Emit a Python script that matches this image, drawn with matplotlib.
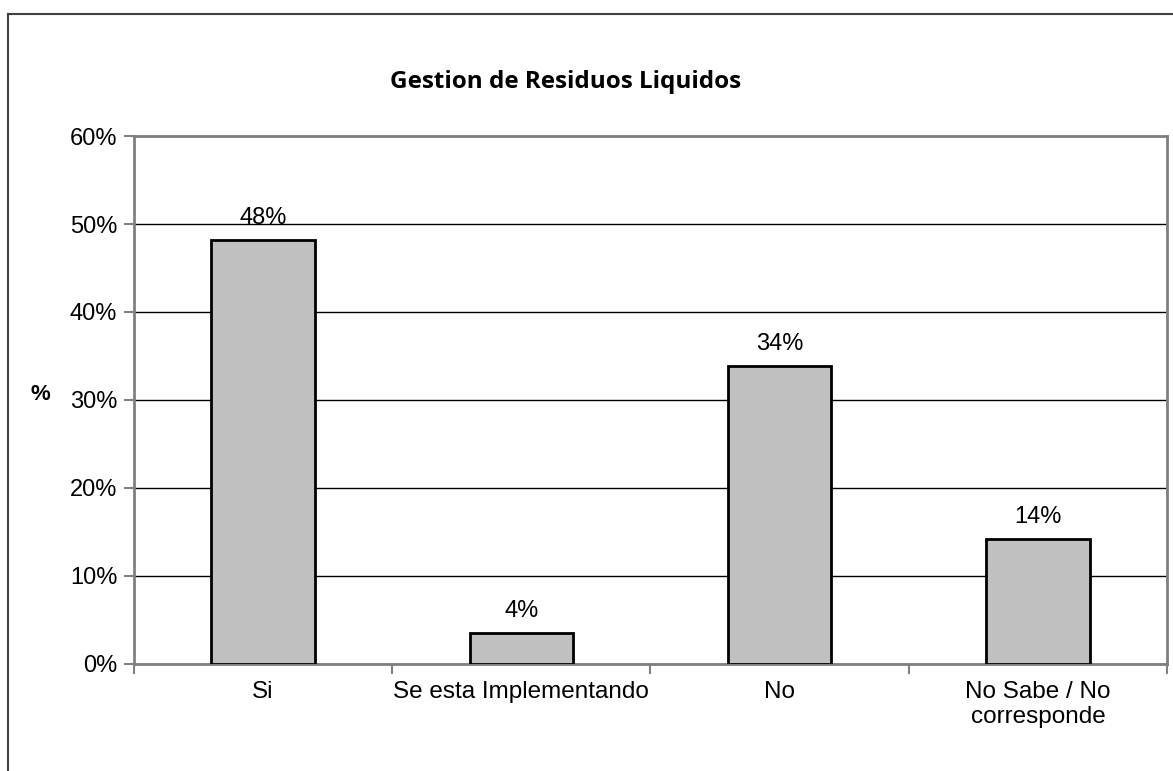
import numpy as np
import matplotlib.pyplot as plt
from matplotlib.ticker import FixedLocator, FuncFormatter
from matplotlib.lines import Line2D

# datos
categorias = ['Si', 'Se esta Implementando', 'No', 'No Sabe / No\ncorresponde']
valores = [48.2, 3.5, 33.9, 14.2]
etiquetas = ['48%', '4%', '34%', '14%']
ticks_y = [0, 10, 20, 30, 40, 50, 60]

plt.rcParams['font.family'] = ['Liberation Sans', 'DejaVu Sans']

fig = plt.figure(figsize=(11.73, 7.71), dpi=100)
ax = fig.add_axes([0.1142, 0.1388, 0.8807, 0.6848])

x = np.arange(len(categorias))
bars = ax.bar(x, valores, width=0.4, color='#C0C0C0', edgecolor='black',
              linewidth=2, zorder=3)

for b, txt in zip(bars, etiquetas):
    ax.annotate(txt, (b.get_x() + b.get_width() / 2, b.get_height()),
                xytext=(0, 8), textcoords='offset points',
                ha='center', va='bottom', fontsize=17)

ax.set_xlim(-0.5, len(categorias) - 0.5)
ax.set_ylim(0, 60)
ax.set_yticks(ticks_y)
ax.yaxis.set_major_formatter(FuncFormatter(lambda v, p: f'{v:.0f}%'))
ax.grid(axis='y', color='black', linewidth=1, zorder=0)

ax.set_xticks(x)
ax.set_xticklabels(categorias, fontsize=17.5, linespacing=1.2)
ax.xaxis.set_minor_locator(FixedLocator(np.arange(-0.5, len(categorias), 1.0)))
ax.tick_params(axis='x', which='major', length=0, pad=12)
ax.tick_params(axis='x', which='minor', length=7, width=1.5, color='#808080')
ax.tick_params(axis='y', length=7, width=1.5, color='#808080', labelsize=17, pad=5)

for s in ax.spines.values():
    s.set_color('#808080')
    s.set_linewidth(2)

fig.text(0.4825, 0.894, 'Gestion de Residuos Liquidos', ha='center', va='center',
         fontsize=17.5, fontweight='bold', family=['Open Sans', 'DejaVu Sans'])
fig.text(0.034, 0.488, '%', ha='center', va='center', fontsize=16, fontweight='bold')

# marco exterior (izquierda y arriba)
fig.add_artist(Line2D([8 / 1173, 8 / 1173], [0, 1 - 14 / 771], transform=fig.transFigure,
                      color='#404040', linewidth=1.5))
fig.add_artist(Line2D([8 / 1173, 1], [1 - 14 / 771, 1 - 14 / 771], transform=fig.transFigure,
                      color='#404040', linewidth=1.5))

fig.savefig('out.png', dpi=100)
